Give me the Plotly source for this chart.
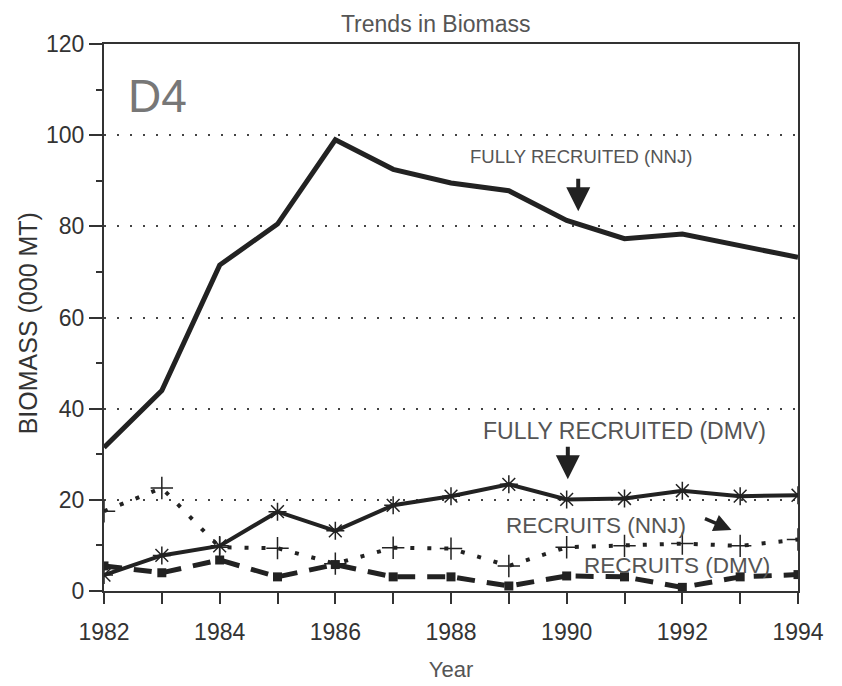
import plotly.graph_objects as go

years = list(range(1982, 1995))
fully_nnj = [31.5, 44, 71.5, 80.5, 99, 92.5, 89.5, 87.8, 81.3, 77.3, 78.3, 75.8, 73.2]
fully_dmv = [3.5, 7.8, 9.9, 17.4, 13.2, 18.8, 20.8, 23.4, 20.1, 20.3, 22.0, 20.8, 21.0]
recruits_nnj = [17.5, 22.6, 9.6, 9.4, 6.0, 9.5, 9.3, 5.5, 9.6, 9.9, 10.4, 9.9, 11.3]
recruits_dmv = [5.5, 4.0, 6.8, 3.1, 5.8, 3.1, 3.1, 1.1, 3.3, 3.1, 0.8, 3.1, 3.6]

line_col = "#222222"
text_col = "#555555"
font_family = "Liberation Sans, Arial, sans-serif"

fig = go.Figure()
fig.add_trace(go.Scatter(x=years, y=fully_nnj, mode="lines",
                         line=dict(color=line_col, width=5), name="Fully recruited (NNJ)"))
fig.add_trace(go.Scatter(x=years, y=fully_dmv, mode="lines+markers",
                         line=dict(color=line_col, width=4),
                         marker=dict(symbol="asterisk-open", size=15, color=line_col,
                                     line=dict(width=1.5, color=line_col)),
                         name="Fully recruited (DMV)"))
fig.add_trace(go.Scatter(x=years, y=recruits_nnj, mode="lines+markers",
                         line=dict(color=line_col, width=4, dash="4px,13px"),
                         marker=dict(symbol="cross-thin-open", size=16, color=line_col,
                                     line=dict(width=1.5, color=line_col)),
                         name="Recruits (NNJ)"))
fig.add_trace(go.Scatter(x=years, y=recruits_dmv, mode="lines+markers",
                         line=dict(color=line_col, width=5, dash="18px,12px"),
                         marker=dict(symbol="square", size=9, color=line_col),
                         name="Recruits (DMV)"))

annots = [
    dict(x=1982.93, y=108.5, text="D4", font=dict(size=46, color="#777777")),
    dict(x=1990.25, y=95.3, text="FULLY RECRUITED (NNJ)", font=dict(size=18.5, color=text_col)),
    dict(x=1991.0, y=35.2, text="FULLY RECRUITED (DMV)", font=dict(size=23, color=text_col)),
    dict(x=1990.5, y=14.3, text="RECRUITS (NNJ)", font=dict(size=22.5, color=text_col)),
    dict(x=1991.9, y=5.6, text="RECRUITS (DMV)", font=dict(size=22.5, color=text_col)),
]
for a in annots:
    fig.add_annotation(x=a["x"], y=a["y"], text=a["text"], showarrow=False,
                       font=dict(family=font_family, **a["font"]))

arrows = [
    (1990.2, 83.3, 0, -34, 1.2, 4),
    (1990.02, 24.5, 0, -34, 1.2, 4),
    (1992.85, 13.4, -28, -12, 1.0, 3.5),
]
for x, y, ax, ay, asz, aw in arrows:
    fig.add_annotation(x=x, y=y, text="", showarrow=True, ax=ax, ay=ay,
                       arrowhead=2, arrowsize=asz, arrowwidth=aw, arrowcolor=line_col)

fig.add_annotation(xref="paper", yref="paper", x=-0.132, y=0.49,
                   text="BIOMASS (000 MT)", textangle=-90, showarrow=False,
                   font=dict(family=font_family, size=25, color="#333333"))

fig.update_layout(
    width=842, height=686,
    margin=dict(l=96, r=52, t=36, b=103),
    plot_bgcolor="white", paper_bgcolor="white",
    showlegend=False,
    font=dict(family=font_family, color="#333333"),
    title=dict(text="Trends in Biomass", x=0.508, xanchor="center", y=0.977, yanchor="middle",
               font=dict(size=23, color=text_col)),
    xaxis=dict(range=[1982, 1994], tickmode="linear", tick0=1982, dtick=2,
               ticks="outside", ticklen=11, tickwidth=1.5, tickcolor="#333",
               minor=dict(dtick=1, tick0=1982, ticks="outside", ticklen=11, tickwidth=1.5, tickcolor="#333"),
               showgrid=False, showline=True, linecolor="#333", linewidth=2, mirror=True,
               tickfont=dict(size=23, color="#333"), ticklabelstandoff=8,
               title=dict(text="Year", font=dict(size=22, color=text_col), standoff=18),
               zeroline=False),
    yaxis=dict(range=[0, 120], tickmode="linear", tick0=0, dtick=20,
               ticks="outside", ticklen=13, tickwidth=1.5, tickcolor="#333",
               minor=dict(dtick=10, ticks="outside", ticklen=6, tickwidth=1.5, tickcolor="#333", showgrid=False),
               showgrid=True, gridcolor="#444", gridwidth=2, griddash="2px,11px",
               showline=True, linecolor="#333", linewidth=2, mirror=True,
               tickfont=dict(size=23, color="#333"),
               zeroline=False),
)

fig.write_html("out.html")
